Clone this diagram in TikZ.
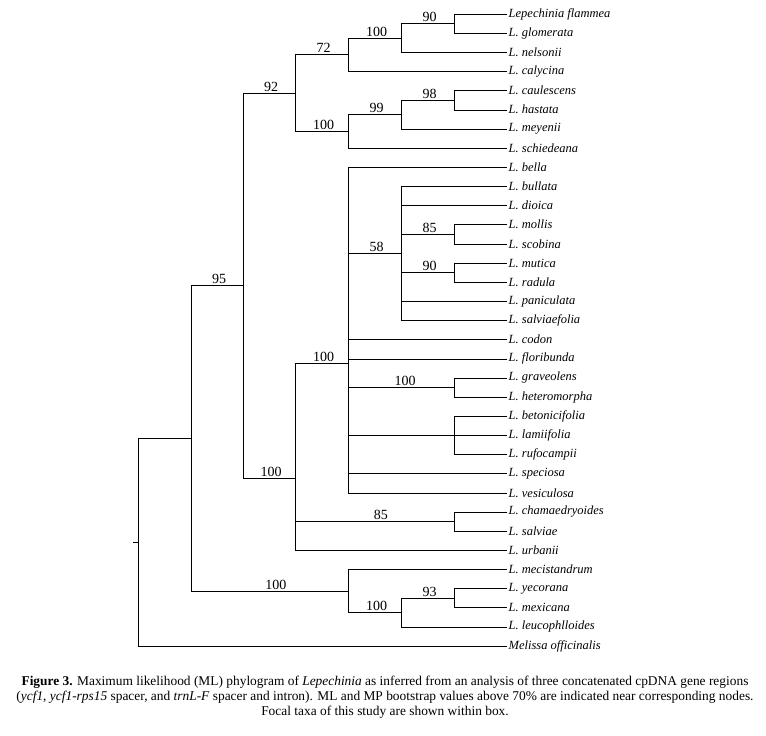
\documentclass[tikz,border=0pt]{standalone}
\usepackage{fontspec}
\setmainfont{Liberation Serif}

\begin{document}
\begin{tikzpicture}[x=1pt, y=-1pt,
    taxon/.style={anchor=west, inner sep=1.5pt, font=\fontsize{12.5}{14}\selectfont\itshape},
    boot/.style={above, inner sep=1.5pt, pos=0.77, font=\fontsize{14}{16}\selectfont}]
  \useasboundingbox[fill=white] (0,0) rectangle (766,736);

  % Taxa
  \node[taxon] (t01) at (507,14.00)  {Lepechinia flammea};
  \node[taxon] (t02) at (507,33.15)  {L. glomerata};
  \node[taxon] (t03) at (507,52.30)  {L. nelsonii};
  \node[taxon] (t04) at (507,71.45)  {L. calycina};
  \node[taxon] (t05) at (507,90.60)  {L. caulescens};
  \node[taxon] (t06) at (507,109.75) {L. hastata};
  \node[taxon] (t07) at (507,128.90) {L. meyenii};
  \node[taxon] (t08) at (507,148.05) {L. schiedeana};
  \node[taxon] (t09) at (507,167.20) {L. bella};
  \node[taxon] (t10) at (507,186.35) {L. bullata};
  \node[taxon] (t11) at (507,205.50) {L. dioica};
  \node[taxon] (t12) at (507,224.65) {L. mollis};
  \node[taxon] (t13) at (507,243.80) {L. scobina};
  \node[taxon] (t14) at (507,262.95) {L. mutica};
  \node[taxon] (t15) at (507,282.10) {L. radula};
  \node[taxon] (t16) at (507,301.25) {L. paniculata};
  \node[taxon] (t17) at (507,320.40) {L. salviaefolia};
  \node[taxon] (t18) at (507,339.55) {L. codon};
  \node[taxon] (t19) at (507,358.70) {L. floribunda};
  \node[taxon] (t20) at (507,377.85) {L. graveolens};
  \node[taxon] (t21) at (507,397.00) {L. heteromorpha};
  \node[taxon] (t22) at (507,416.15) {L. betonicifolia};
  \node[taxon] (t23) at (507,435.30) {L. lamiifolia};
  \node[taxon] (t24) at (507,454.45) {L. rufocampii};
  \node[taxon] (t25) at (507,473.60) {L. speciosa};
  \node[taxon] (t26) at (507,492.75) {L. vesiculosa};
  \node[taxon] (t27) at (507,511.90) {L. chamaedryoides};
  \node[taxon] (t28) at (507,531.05) {L. salviae};
  \node[taxon] (t29) at (507,550.20) {L. urbanii};
  \node[taxon] (t30) at (507,569.35) {L. mecistandrum};
  \node[taxon] (t31) at (507,588.50) {L. yecorana};
  \node[taxon] (t32) at (507,607.65) {L. mexicana};
  \node[taxon] (t33) at (507,626.80) {L. leucophlloides};
  \node[taxon] (t34) at (507,645.95) {Melissa officinalis};

  % Internal nodes
  \coordinate (root)  at (138,542.13);
  \coordinate (n100h) at (191,438.30);
  \coordinate (n95)   at (243,285.69);
  \coordinate (n92)   at (295,92.99);
  \coordinate (n72)   at (348,54.69);
  \coordinate (n100a) at (401,37.94);
  \coordinate (n90a)  at (454,23.58);
  \coordinate (n100b) at (348,131.29);
  \coordinate (n99)   at (401,114.54);
  \coordinate (n98)   at (454,100.18);
  \coordinate (n100e) at (295,478.39);
  \coordinate (n100d) at (348,363.49);
  \coordinate (n58)   at (401,253.38);
  \coordinate (n85a)  at (454,234.23);
  \coordinate (n90b)  at (454,272.53);
  \coordinate (n100c) at (454,387.43);
  \coordinate (nbet)  at (454,435.30);
  \coordinate (n85b)  at (454,521.48);
  \coordinate (n100g) at (348,590.90);
  \coordinate (n100f) at (401,612.44);
  \coordinate (n93)   at (454,598.08);
  \coordinate (stub)  at (133,542.13);

  % Root
  \draw (stub) -- (root);
  \draw (root) |- (n100h);
  \draw (root) |- (t34.west);
  \draw (n100h) |- (n95) node[boot] {95};
  \draw (n100h) |- (n100g) node[boot] {100};
  \draw (n95) |- (n92) node[boot] {92};
  \draw (n95) |- (n100e) node[boot] {100};

  % Upper clade
  \draw (n92) |- (n72) node[boot] {72};
  \draw (n92) |- (n100b) node[boot] {100};
  \draw (n72) |- (n100a) node[boot] {100};
  \draw (n72) |- (t04.west);
  \draw (n100a) |- (n90a) node[boot] {90};
  \draw (n100a) |- (t03.west);
  \draw (n90a) |- (t01.west);
  \draw (n90a) |- (t02.west);
  \draw (n100b) |- (n99) node[boot] {99};
  \draw (n100b) |- (t08.west);
  \draw (n99) |- (n98) node[boot] {98};
  \draw (n99) |- (t07.west);
  \draw (n98) |- (t05.west);
  \draw (n98) |- (t06.west);

  % Middle clade
  \draw (n100e) |- (n100d) node[boot] {100};
  \draw (n100e) |- (n85b) node[boot] {85};
  \draw (n100e) |- (t29.west);
  \draw (n100d) |- (t09.west);
  \draw (n100d) |- (n58) node[boot] {58};
  \draw (n100d) |- (t18.west);
  \draw (n100d) |- (t19.west);
  \draw (n100d) |- (n100c) node[boot] {100};
  \draw (n100d) |- (nbet);
  \draw (n100d) |- (t25.west);
  \draw (n100d) |- (t26.west);
  \draw (n58) |- (t10.west);
  \draw (n58) |- (t11.west);
  \draw (n58) |- (n85a) node[boot] {85};
  \draw (n58) |- (n90b) node[boot] {90};
  \draw (n58) |- (t16.west);
  \draw (n58) |- (t17.west);
  \draw (n85a) |- (t12.west);
  \draw (n85a) |- (t13.west);
  \draw (n90b) |- (t14.west);
  \draw (n90b) |- (t15.west);
  \draw (n100c) |- (t20.west);
  \draw (n100c) |- (t21.west);
  \draw (nbet) |- (t22.west);
  \draw (nbet) -- (t23.west);
  \draw (nbet) |- (t24.west);
  \draw (n85b) |- (t27.west);
  \draw (n85b) |- (t28.west);

  % Lower clade
  \draw (n100g) |- (t30.west);
  \draw (n100g) |- (n100f) node[boot] {100};
  \draw (n100f) |- (n93) node[boot] {93};
  \draw (n100f) |- (t33.west);
  \draw (n93) |- (t31.west);
  \draw (n93) |- (t32.west);

  % Caption
  \node[align=center, inner sep=0pt, font=\fontsize{13.4}{15}\selectfont] (caption) at (385,697)
    {\textbf{Figure 3.} Maximum likelihood (ML) phylogram of \textit{Lepechinia} as inferred from an analysis of three concatenated cpDNA gene regions\\
     (\textit{ycf1}, \textit{ycf1-rps15} spacer, and \textit{trnL-F} spacer and intron). ML and MP bootstrap values above 70\% are indicated near corresponding nodes.\\
     Focal taxa of this study are shown within box.};
\end{tikzpicture}
\end{document}
